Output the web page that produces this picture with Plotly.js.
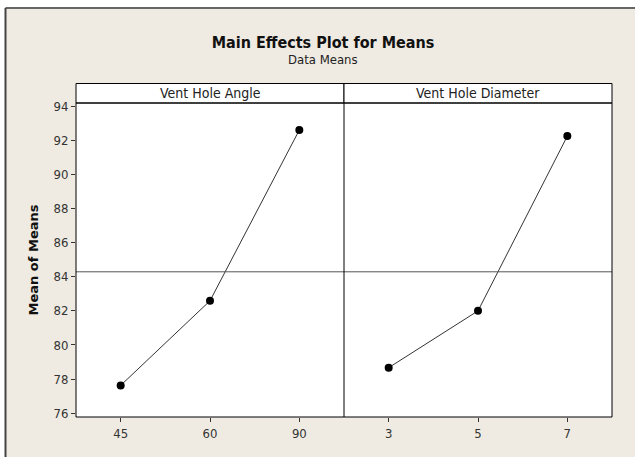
<!DOCTYPE html>
<html>
<head>
<meta charset="utf-8">
<script src="https://cdn.plot.ly/plotly-3.0.1.min.js"></script>
<style>
html,body{margin:0;padding:0;background:#fff;}
#chart{width:635px;height:457px;}
</style>
</head>
<body>
<div id="chart"></div>
<script>
// Data
const angleLevels = ["45", "60", "90"];
const angleMeans = [77.63, 82.59, 92.6];
const diameterLevels = ["3", "5", "7"];
const diameterMeans = [78.67, 82.0, 92.24];
const panelTitles = ["Vent Hole Angle", "Vent Hole Diameter"];
const yTicks = [76, 78, 80, 82, 84, 86, 88, 90, 92, 94];

const W = 635, H = 457;
const margin = {l: 76, r: 23, t: 103, b: 40};
const plotH = H - margin.t - margin.b;
const plotW = W - margin.l - margin.r;

const allMeans = angleMeans.concat(diameterMeans);
const grandMean = allMeans.reduce((a, b) => a + b, 0) / allMeans.length;

const FONT = "DejaVu Sans Condensed, DejaVu Sans, sans-serif";
const FONT2 = "DejaVu Sans, sans-serif";
const pos = [1, 2, 3];

const traces = [
  {x: pos, y: angleMeans, xaxis: 'x', yaxis: 'y', type: 'scatter', mode: 'lines+markers',
   line: {color: '#333', width: 1}, marker: {color: '#000', size: 8}, showlegend: false, hoverinfo: 'y', cliponaxis: false},
  {x: pos, y: diameterMeans, xaxis: 'x2', yaxis: 'y', type: 'scatter', mode: 'lines+markers',
   line: {color: '#333', width: 1}, marker: {color: '#000', size: 8}, showlegend: false, hoverinfo: 'y', cliponaxis: false}
];

const headerH = 19.5 / plotH;
const px2paperX = p => (p - margin.l) / plotW;
const px2paperY = p => (H - margin.b - p) / plotH;

const xCommon = {
  range: [0.5, 3.5], tickmode: 'array', tickvals: pos, ticks: 'outside', ticklen: 4,
  tickcolor: '#333', showline: false,
  showgrid: false, zeroline: false, fixedrange: true,
  tickfont: {family: FONT, size: 13, color: '#333'}
};

const layout = {
  width: W, height: H,
  paper_bgcolor: '#efebe2', plot_bgcolor: '#ffffff',
  margin: margin,
  showlegend: false,
  title: {text: '<b>Main Effects Plot for Means</b>', font: {family: FONT, size: 16, color: '#111'},
          x: 323 / W, xanchor: 'center', xref: 'container', y: 1 - 42 / H, yanchor: 'middle'},
  xaxis: Object.assign({}, xCommon, {domain: [0, 0.5], ticktext: angleLevels, anchor: 'y'}),
  xaxis2: Object.assign({}, xCommon, {domain: [0.5, 1], ticktext: diameterLevels, anchor: 'y'}),
  yaxis: {
    range: [75.78, 94.18], tickmode: 'array', tickvals: yTicks, ticks: 'outside', ticklen: 4,
    tickcolor: '#333', showline: false,
    showgrid: false, zeroline: false, fixedrange: true,
    tickfont: {family: FONT, size: 13, color: '#333'},
    title: {text: '<b>Mean of Means</b>', font: {family: FONT2, size: 13, color: '#111'}, standoff: 11}
  },
  annotations: [
    {text: 'Data Means', xref: 'paper', yref: 'paper', x: px2paperX(323), y: px2paperY(60),
     xanchor: 'center', yanchor: 'middle', showarrow: false, font: {family: FONT, size: 13, color: '#222'}},
    {text: panelTitles[0], xref: 'paper', yref: 'paper', x: 0.25, y: 1 + headerH / 2,
     xanchor: 'center', yanchor: 'middle', showarrow: false, font: {family: FONT, size: 14, color: '#222'}},
    {text: panelTitles[1], xref: 'paper', yref: 'paper', x: 0.75, y: 1 + headerH / 2,
     xanchor: 'center', yanchor: 'middle', showarrow: false, font: {family: FONT, size: 14, color: '#222'}}
  ],
  shapes: [
    // outer frame: white strips and border
    {type: 'rect', xref: 'paper', yref: 'paper', x0: px2paperX(0), x1: px2paperX(W), y0: px2paperY(7), y1: px2paperY(0),
     fillcolor: '#fff', line: {width: 0}, layer: 'below'},
    {type: 'rect', xref: 'paper', yref: 'paper', x0: px2paperX(0), x1: px2paperX(5), y0: px2paperY(H), y1: px2paperY(0),
     fillcolor: '#fff', line: {width: 0}, layer: 'below'},
    {type: 'line', xref: 'paper', yref: 'paper', x0: px2paperX(5.5), x1: px2paperX(W), y0: px2paperY(8), y1: px2paperY(8),
     line: {color: '#666', width: 2}},
    {type: 'line', xref: 'paper', yref: 'paper', x0: px2paperX(5.5), x1: px2paperX(5.5), y0: px2paperY(8), y1: px2paperY(H),
     line: {color: '#444', width: 2}},
    // header boxes
    {type: 'rect', xref: 'paper', yref: 'paper', x0: 0, x1: 0.5, y0: 1, y1: 1 + headerH,
     fillcolor: '#fff', line: {color: '#000', width: 1}},
    {type: 'rect', xref: 'paper', yref: 'paper', x0: 0.5, x1: 1, y0: 1, y1: 1 + headerH,
     fillcolor: '#fff', line: {color: '#000', width: 1}},
    // grand mean reference line
    {type: 'line', xref: 'x domain', yref: 'y', x0: 0, x1: 1, y0: grandMean, y1: grandMean,
     line: {color: '#555', width: 1}},
    {type: 'line', xref: 'x2 domain', yref: 'y', x0: 0, x1: 1, y0: grandMean, y1: grandMean,
     line: {color: '#555', width: 1}},
    // plot frame and panel divider
    {type: 'rect', xref: 'paper', yref: 'paper', x0: 0, x1: 1, y0: 0, y1: 1,
     fillcolor: 'rgba(0,0,0,0)', line: {color: '#000', width: 1}},
    {type: 'line', xref: 'paper', yref: 'paper', x0: 0.5, x1: 0.5, y0: 0, y1: 1,
     line: {color: '#000', width: 1}}
  ]
};

Plotly.newPlot('chart', traces, layout, {displayModeBar: false, staticPlot: true});
</script>
</body>
</html>
